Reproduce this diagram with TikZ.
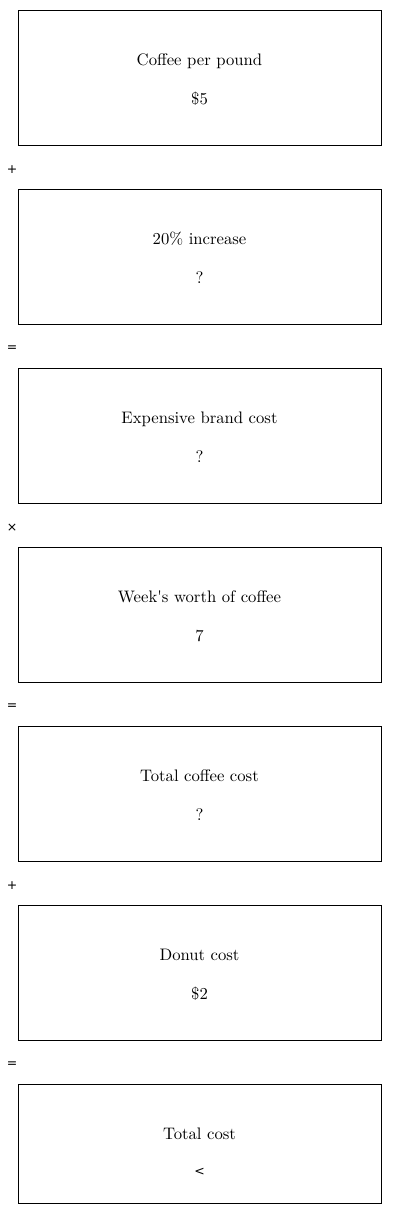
\documentclass[tikz,border=0pt]{standalone}
\usepackage{fontspec}
\newfontfamily\opfont{DejaVu Sans}
\usepackage{tikz}
\usetikzlibrary{positioning}

\begin{document}
\begin{tikzpicture}[
  x=0.6pt, y=-0.6pt,
  valbox/.style={draw=black, line width=0.6pt, minimum width=217.8pt, minimum height=81pt, inner sep=0pt},
  boxtext/.style={anchor=base, font=\normalsize, inner sep=0pt},
  opsign/.style={font=\opfont\fontsize{7.5}{9}\selectfont, inner sep=0pt}
]
  \useasboundingbox (0,0) rectangle (400,1214);
  % one box per step, operator between boxes
  \node[valbox] (pound) at (199.5,77.5) {};
  \node[boxtext] (poundname) at (199.5,65) {Coffee per pound};
  \node[boxtext] (poundval) at (199.5,104) {\$5};
  \node[opsign] (plusa) at (12,170) {+};

  \node[valbox] (incr) at (199.5,256.5) {};
  \node[boxtext] (incrname) at (199.5,244) {20\% increase};
  \node[boxtext] (incrval) at (199.5,283) {?};
  \node[opsign] (eqa) at (12,349) {=};

  \node[valbox] (brand) at (199.5,435.5) {};
  \node[boxtext] (brandname) at (199.5,423) {Expensive brand cost};
  \node[boxtext] (brandval) at (199.5,462) {?};
  \node[opsign] (times) at (12,528) {×};

  \node[valbox] (week) at (199.5,614.5) {};
  \node[boxtext] (weekname) at (199.5,602) {Week\textquotesingle s worth of coffee};
  \node[boxtext] (weekval) at (199.5,641) {7};
  \node[opsign] (eqb) at (12,707) {=};

  \node[valbox] (coffee) at (199.5,793.5) {};
  \node[boxtext] (coffeename) at (199.5,781) {Total coffee cost};
  \node[boxtext] (coffeeval) at (199.5,820) {?};
  \node[opsign] (plusb) at (12,886) {+};

  \node[valbox] (donut) at (199.5,972.5) {};
  \node[boxtext] (donutname) at (199.5,960) {Donut cost};
  \node[boxtext] (donutval) at (199.5,999) {\$2};
  \node[opsign] (eqc) at (12,1065) {=};

  \node[valbox, minimum height=71.4pt] (total) at (199.5,1143.5) {};
  \node[boxtext] (totalname) at (199.5,1139) {Total cost};
  \node[opsign] (totalval) at (199.5,1172) {<};
\end{tikzpicture}
\end{document}
